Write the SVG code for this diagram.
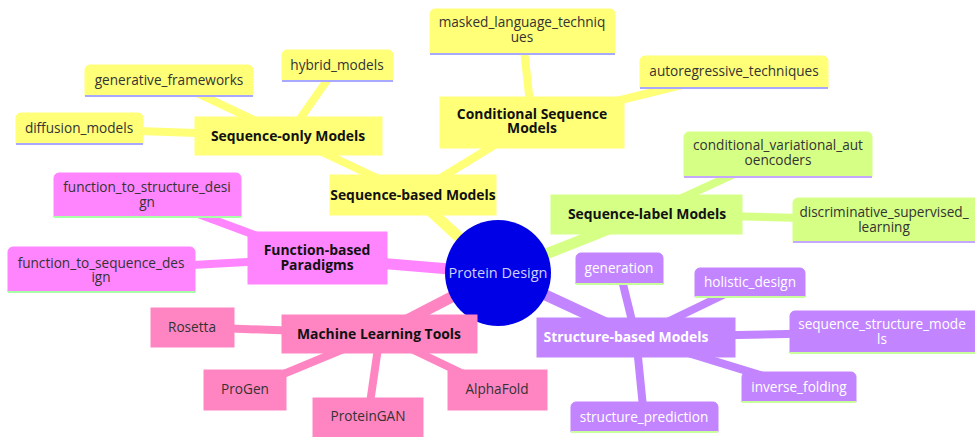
<svg xmlns="http://www.w3.org/2000/svg" width="975" height="437" viewBox="0 0 975 437">
  <style>
    text { font-family: "Open Sans", "Liberation Sans", sans-serif; font-size: 13.6px; text-anchor: middle; fill: #333; }
    .b { font-weight: bold; fill: #111; font-size: 13.9px; }
    .edge { fill: none; stroke-linecap: butt; }
    .e0 { stroke-width: 11; }
    .e1 { stroke-width: 8; }
    .y { fill: #ffff78; stroke: #ffff78; }
    .g { fill: #d6ff85; stroke: #d6ff85; }
    .p { fill: #c285ff; stroke: #c285ff; }
    .m { fill: #ff85ff; stroke: #ff85ff; }
    .k { fill: #ff85c2; stroke: #ff85c2; }
    .edge.y, .edge.g, .edge.p, .edge.m, .edge.k { fill: none; }
    .uy { stroke: #a8a8ff; stroke-width: 2; }
    .ug { stroke: #c4a8ff; stroke-width: 2; }
    .up { stroke: #c8ff9c; stroke-width: 2; }
    .um { stroke: #a8ffa8; stroke-width: 2; }
    .w { fill: #fff; }
    .root { fill: #0000e6; }
    .rt { fill: #d0d0ff; font-size: 14.5px; }
  </style>

  <!-- connectors -->
  <g id="edges">
    <line class="edge e0 y" x1="498" y1="273" x2="413" y2="195"/>
    <line class="edge e0 g" x1="498" y1="273" x2="647" y2="214"/>
    <line class="edge e0 p" x1="498" y1="273" x2="636" y2="337"/>
    <line class="edge e0 m" x1="498" y1="273" x2="317" y2="258"/>
    <line class="edge e0 k" x1="498" y1="273" x2="380" y2="334"/>

    <line class="edge e1 y" x1="413" y1="195" x2="288" y2="136"/>
    <line class="edge e1 y" x1="413" y1="195" x2="532" y2="122"/>
    <line class="edge e1 y" x1="288" y1="136" x2="79" y2="129"/>
    <line class="edge e1 y" x1="288" y1="136" x2="169" y2="80"/>
    <line class="edge e1 y" x1="288" y1="136" x2="337" y2="66"/>
    <line class="edge e1 y" x1="532" y1="122" x2="522" y2="31"/>
    <line class="edge e1 y" x1="532" y1="122" x2="734" y2="72"/>

    <line class="edge e1 g" x1="647" y1="214" x2="778" y2="154"/>
    <line class="edge e1 g" x1="647" y1="214" x2="884" y2="220"/>

    <line class="edge e1 p" x1="636" y1="337" x2="619" y2="268"/>
    <line class="edge e1 p" x1="636" y1="337" x2="750" y2="282"/>
    <line class="edge e1 p" x1="636" y1="337" x2="882" y2="332"/>
    <line class="edge e1 p" x1="636" y1="337" x2="799" y2="387"/>
    <line class="edge e1 p" x1="636" y1="337" x2="644" y2="417"/>

    <line class="edge e1 m" x1="317" y1="258" x2="147" y2="195"/>
    <line class="edge e1 m" x1="317" y1="258" x2="101" y2="270"/>

    <line class="edge e1 k" x1="380" y1="334" x2="192" y2="327"/>
    <line class="edge e1 k" x1="380" y1="334" x2="245" y2="390"/>
    <line class="edge e1 k" x1="380" y1="334" x2="368" y2="417"/>
    <line class="edge e1 k" x1="380" y1="334" x2="497" y2="390"/>
  </g>

  <!-- root -->
  <g id="protein-design">
    <circle class="root" cx="498" cy="273" r="53"/>
    <text class="rt" x="498" y="278">Protein Design</text>
  </g>

  <!-- sequence-based branch -->
  <g id="sequence-based-models">
    <rect class="y" x="330" y="175" width="166" height="40"/>
    <text class="b" x="413" y="200">Sequence-based Models</text>
  </g>
  <g id="sequence-only-models">
    <rect class="y" x="195" y="117" width="187" height="38"/>
    <text class="b" x="288" y="141">Sequence-only Models</text>
  </g>
  <g id="diffusion-models">
    <path class="y" d="M16,144 V118 a5,5 0 0 1 5,-5 H138 a5,5 0 0 1 5,5 V144 Z"/>
    <line class="uy" x1="16" y1="144" x2="143" y2="144"/>
    <text x="79" y="133">diffusion_models</text>
  </g>
  <g id="generative-frameworks">
    <path class="y" d="M85,96 V70 a5,5 0 0 1 5,-5 H248 a5,5 0 0 1 5,5 V96 Z"/>
    <line class="uy" x1="85" y1="96" x2="253" y2="96"/>
    <text x="169" y="85">generative_frameworks</text>
  </g>
  <g id="hybrid-models">
    <path class="y" d="M282,81 V55 a5,5 0 0 1 5,-5 H388 a5,5 0 0 1 5,5 V81 Z"/>
    <line class="uy" x1="282" y1="81" x2="393" y2="81"/>
    <text x="337" y="70">hybrid_models</text>
  </g>
  <g id="conditional-sequence-models">
    <rect class="y" x="440" y="97" width="184" height="51"/>
    <text class="b" x="532" y="119">Conditional Sequence</text>
    <text class="b" x="532" y="133">Models</text>
  </g>
  <g id="masked-language-techniques">
    <path class="y" d="M430,54 V14 a5,5 0 0 1 5,-5 H610 a5,5 0 0 1 5,5 V54 Z"/>
    <line class="uy" x1="430" y1="54" x2="615" y2="54"/>
    <text x="522" y="27">masked_language_techniq</text>
    <text x="522" y="42">ues</text>
  </g>
  <g id="autoregressive-techniques">
    <path class="y" d="M640,88 V61 a5,5 0 0 1 5,-5 H823 a5,5 0 0 1 5,5 V88 Z"/>
    <line class="uy" x1="640" y1="88" x2="828" y2="88"/>
    <text x="734" y="76">autoregressive_techniques</text>
  </g>

  <!-- sequence-label branch -->
  <g id="sequence-label-models">
    <rect class="g" x="551" y="195" width="191" height="39"/>
    <text class="b" x="647" y="219">Sequence-label Models</text>
  </g>
  <g id="conditional-variational-autoencoders">
    <path class="g" d="M684,177 V137 a5,5 0 0 1 5,-5 H867 a5,5 0 0 1 5,5 V177 Z"/>
    <line class="ug" x1="684" y1="177" x2="872" y2="177"/>
    <text x="778" y="150">conditional_variational_aut</text>
    <text x="778" y="165">oencoders</text>
  </g>
  <g id="discriminative-supervised-learning">
    <path class="g" d="M793,242 V203 a5,5 0 0 1 5,-5 H975 V242 Z"/>
    <line class="ug" x1="793" y1="242" x2="975" y2="242"/>
    <text x="884" y="217">discriminative_supervised_</text>
    <text x="884" y="232">learning</text>
  </g>

  <!-- structure-based branch -->
  <g id="structure-based-models">
    <rect class="p" x="537" y="318" width="198" height="39"/>
    <text class="b w" x="626" y="342">Structure-based Models</text>
  </g>
  <g id="generation">
    <path class="p" d="M576,284 V258 a5,5 0 0 1 5,-5 H658 a5,5 0 0 1 5,5 V284 Z"/>
    <line class="up" x1="576" y1="284" x2="663" y2="284"/>
    <text class="w" x="619" y="273">generation</text>
  </g>
  <g id="holistic-design">
    <path class="p" d="M695,297 V273 a5,5 0 0 1 5,-5 H800 a5,5 0 0 1 5,5 V297 Z"/>
    <line class="up" x1="695" y1="297" x2="805" y2="297"/>
    <text class="w" x="750" y="287">holistic_design</text>
  </g>
  <g id="sequence-structure-models">
    <path class="p" d="M790,353 V316 a5,5 0 0 1 5,-5 H975 V353 Z"/>
    <line class="up" x1="790" y1="353" x2="975" y2="353"/>
    <text class="w" x="882" y="329">sequence_structure_mode</text>
    <text class="w" x="882" y="344">ls</text>
  </g>
  <g id="inverse-folding">
    <path class="p" d="M742,402 V377 a5,5 0 0 1 5,-5 H851 a5,5 0 0 1 5,5 V402 Z"/>
    <line class="up" x1="742" y1="402" x2="856" y2="402"/>
    <text class="w" x="799" y="392">inverse_folding</text>
  </g>
  <g id="structure-prediction">
    <path class="p" d="M571,432 V407 a5,5 0 0 1 5,-5 H713 a5,5 0 0 1 5,5 V432 Z"/>
    <line class="up" x1="571" y1="432" x2="718" y2="432"/>
    <text class="w" x="644" y="422">structure_prediction</text>
  </g>

  <!-- function-based branch -->
  <g id="function-based-paradigms">
    <rect class="m" x="248" y="232" width="139" height="52"/>
    <text class="b" x="317" y="255">Function-based</text>
    <text class="b" x="317" y="270">Paradigms</text>
  </g>
  <g id="function-to-structure-design">
    <path class="m" d="M54,217 V178 a5,5 0 0 1 5,-5 H236 a5,5 0 0 1 5,5 V217 Z"/>
    <line class="um" x1="54" y1="217" x2="241" y2="217"/>
    <text x="147" y="192">function_to_structure_desi</text>
    <text x="147" y="207">gn</text>
  </g>
  <g id="function-to-sequence-design">
    <path class="m" d="M8,292 V252 a5,5 0 0 1 5,-5 H190 a5,5 0 0 1 5,5 V292 Z"/>
    <line class="um" x1="8" y1="292" x2="195" y2="292"/>
    <text x="101" y="268">function_to_sequence_des</text>
    <text x="101" y="282">ign</text>
  </g>

  <!-- machine learning tools branch -->
  <g id="machine-learning-tools">
    <rect class="k" x="282" y="315" width="195" height="38"/>
    <text class="b" x="379" y="339">Machine Learning Tools</text>
  </g>
  <g id="rosetta">
    <rect class="k" x="151" y="308" width="83" height="39"/>
    <text x="192" y="332">Rosetta</text>
  </g>
  <g id="progen">
    <rect class="k" x="204" y="370" width="82" height="40"/>
    <text x="245" y="394">ProGen</text>
  </g>
  <g id="proteingan">
    <rect class="k" x="313" y="398" width="110" height="39"/>
    <text x="368" y="421">ProteinGAN</text>
  </g>
  <g id="alphafold">
    <rect class="k" x="448" y="370" width="99" height="40"/>
    <text x="497" y="394">AlphaFold</text>
  </g>
</svg>
